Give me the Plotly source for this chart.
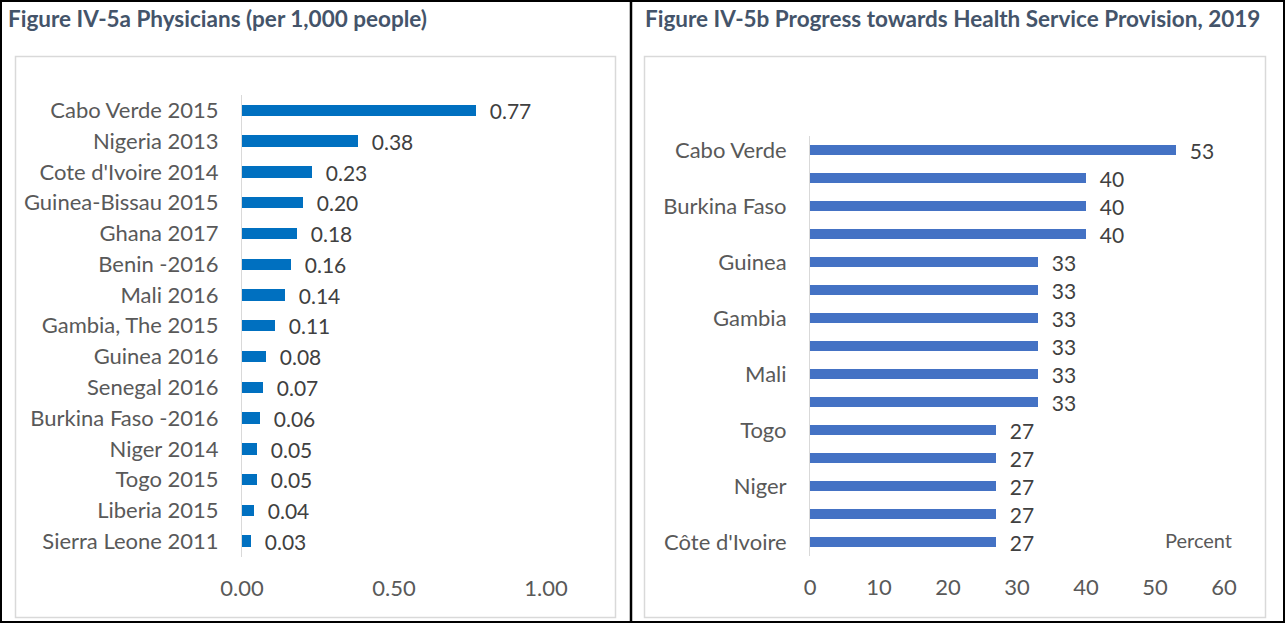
import plotly.graph_objects as go

# ---- data ----
phys_countries = ["Cabo Verde 2015", "Nigeria 2013", "Cote d'Ivoire 2014", "Guinea-Bissau 2015",
                  "Ghana 2017", "Benin -2016", "Mali 2016", "Gambia, The 2015", "Guinea 2016",
                  "Senegal 2016", "Burkina Faso -2016", "Niger 2014", "Togo 2015",
                  "Liberia 2015", "Sierra Leone 2011"]
phys_values = [0.77, 0.38, 0.23, 0.20, 0.18, 0.16, 0.14, 0.11, 0.08, 0.07, 0.06, 0.05, 0.05, 0.04, 0.03]

hsp_countries = ["Cabo Verde", "Ghana", "Burkina Faso", "Senegal", "Guinea", "Benin", "Gambia",
                 "Liberia", "Mali", "Guinea-Bissau", "Togo", "Nigeria", "Niger", "Sierra Leone",
                 "Côte d'Ivoire"]
hsp_values = [53, 40, 40, 40, 33, 33, 33, 33, 33, 33, 27, 27, 27, 27, 27]
hsp_shown = ["Cabo Verde", "Burkina Faso", "Guinea", "Gambia", "Mali", "Togo", "Niger", "Côte d'Ivoire"]

left_ticks = [0, 0.5, 1.0]
left_ticktext = ["0.00", "0.50", "1.00"]
right_ticks = [0, 10, 20, 30, 40, 50, 60]

W, H = 1285, 623
FONT = "Lato, Calibri, 'Open Sans', sans-serif"
LABEL_C = "#595959"
VALUE_C = "#404040"


def px_x(x):
    return x / W


def px_y(y):
    return 1 - y / H


fig = go.Figure()

fig.add_trace(go.Bar(
    x=phys_values, y=phys_countries, orientation="h",
    marker=dict(color="#0070C0", line=dict(width=0)), width=0.37,
    text=["  " + f"{v:.2f}" for v in phys_values], textposition="outside",
    constraintext="none",
    textfont=dict(family=FONT, size=21, color=VALUE_C), cliponaxis=False,
    xaxis="x", yaxis="y", hoverinfo="x+y",
))

fig.add_trace(go.Bar(
    x=hsp_values, y=hsp_countries, orientation="h",
    marker=dict(color="#4472C4", line=dict(width=0)), width=0.36,
    text=["  " + str(v) for v in hsp_values], textposition="outside",
    constraintext="none",
    textfont=dict(family=FONT, size=21, color=VALUE_C), cliponaxis=False,
    xaxis="x2", yaxis="y2", hoverinfo="x+y",
))

axis_font = dict(family=FONT, size=22, color=LABEL_C)

fig.update_layout(
    width=W, height=H, autosize=False,
    margin=dict(l=0, r=0, t=0, b=0, pad=0, autoexpand=False),
    paper_bgcolor="white", plot_bgcolor="white",
    showlegend=False, bargap=0,
    font=dict(family=FONT),
    xaxis=dict(domain=[px_x(242), px_x(546)], range=[0, 1.0], tickvals=left_ticks,
               ticktext=left_ticktext, showgrid=False, zeroline=False, showline=False,
               ticks="outside", ticklen=12, tickcolor="rgba(0,0,0,0)", automargin=False,
               tickfont=axis_font, anchor="y", fixedrange=True),
    yaxis=dict(domain=[px_y(556.5), px_y(95)], autorange="reversed", type="category",
               categoryorder="array", categoryarray=phys_countries,
               showgrid=False, zeroline=False, showline=True, linecolor="#d9d9d9", linewidth=1,
               ticks="outside", ticklen=18, tickcolor="rgba(0,0,0,0)", automargin=False,
               tickfont=axis_font, anchor="x", fixedrange=True),
    xaxis2=dict(domain=[px_x(810), px_x(1224)], range=[0, 60], tickvals=right_ticks,
                showgrid=False, zeroline=False, showline=False,
                ticks="outside", ticklen=12, tickcolor="rgba(0,0,0,0)", automargin=False,
                tickfont=axis_font, anchor="y2", fixedrange=True),
    yaxis2=dict(domain=[px_y(556), px_y(136)], autorange="reversed", type="category",
                categoryorder="array", categoryarray=hsp_countries,
                tickvals=hsp_shown, ticktext=hsp_shown,
                showgrid=False, zeroline=False, showline=True, linecolor="#d9d9d9", linewidth=1,
                ticks="outside", ticklen=18, tickcolor="rgba(0,0,0,0)", automargin=False,
                tickfont=axis_font, anchor="x2", fixedrange=True),
)

shapes = [
    # outer panel frames
    dict(type="rect", xref="paper", yref="paper", x0=px_x(1), x1=px_x(1284), y0=px_y(622), y1=px_y(1),
         line=dict(color="black", width=2)),
    dict(type="line", xref="paper", yref="paper", x0=px_x(631), x1=px_x(631), y0=px_y(622), y1=px_y(0),
         line=dict(color="black", width=2.5)),
    # inner chart frames
    dict(type="rect", xref="paper", yref="paper", x0=px_x(15.5), x1=px_x(615.5), y0=px_y(617.5), y1=px_y(56.5),
         line=dict(color="#d9d9d9", width=1.5)),
    dict(type="rect", xref="paper", yref="paper", x0=px_x(644.5), x1=px_x(1265.5), y0=px_y(617.5), y1=px_y(56.5),
         line=dict(color="#d9d9d9", width=1.5)),
]
fig.update_layout(shapes=shapes)

title_font = dict(family=FONT, size=22.5, color="#44546A")
annotations = [
    dict(text="<b>Figure IV-5a Physicians (per 1,000 people)</b>", xref="paper", yref="paper",
         x=px_x(6), y=px_y(18), xanchor="left", yanchor="middle", showarrow=False, font=title_font),
    dict(text="<b>Figure IV-5b Progress towards Health Service Provision, 2019</b>", xref="paper", yref="paper",
         x=px_x(643), y=px_y(18), xanchor="left", yanchor="middle", showarrow=False, font=title_font),
    dict(text="Percent", xref="paper", yref="paper", x=px_x(1234), y=px_y(540), xanchor="right",
         yanchor="middle", showarrow=False, font=dict(family=FONT, size=20, color=LABEL_C)),
]
fig.update_layout(annotations=annotations)

fig.write_html("out.html")
